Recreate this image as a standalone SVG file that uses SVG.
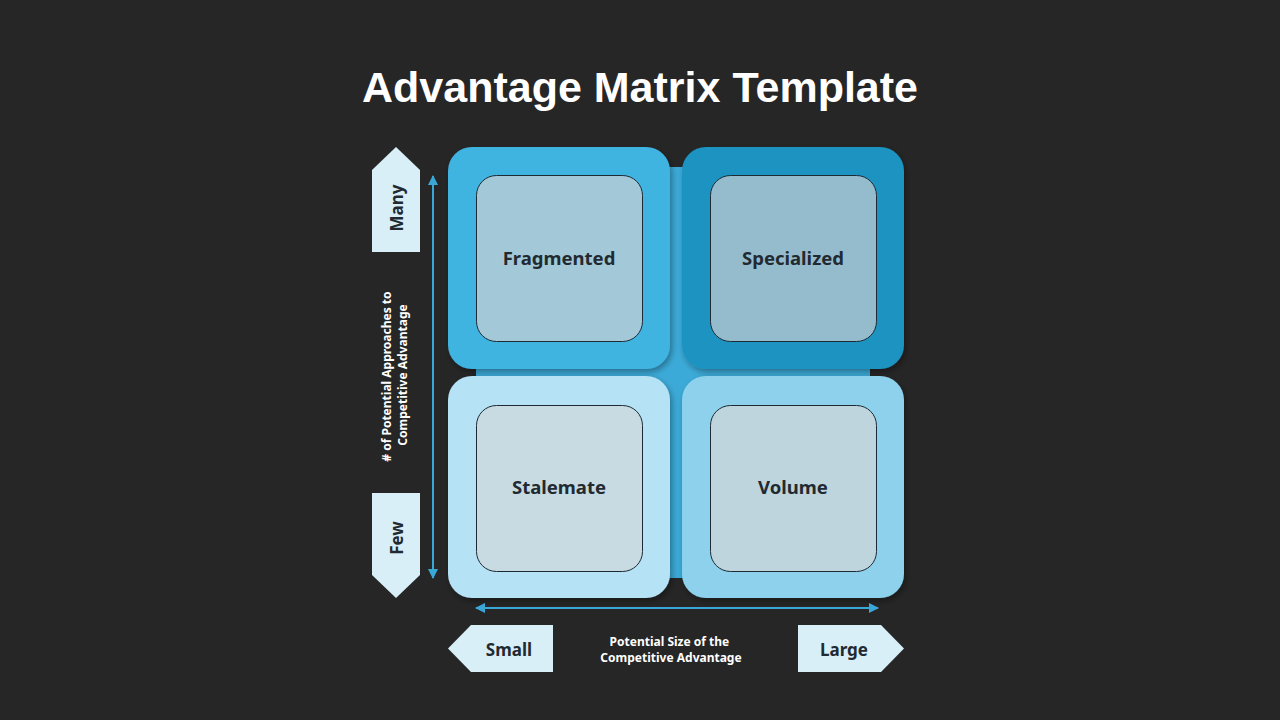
<svg xmlns="http://www.w3.org/2000/svg" width="1280" height="720" viewBox="0 0 1280 720">
  <defs>
    <style>
      .title { font-family: "Liberation Sans", Arial, sans-serif; font-weight: bold; font-size: 42px; fill: #ffffff; }
      .qlabel { font-family: "Noto Sans", "Open Sans", sans-serif; font-weight: bold; font-size: 18.5px; fill: #222a31; }
      .tag { fill: #d8eff8; }
      .taglabel { font-family: "Noto Sans", "Open Sans", sans-serif; font-weight: bold; font-size: 17px; fill: #222a31; }
      .axis { font-family: "Noto Sans", "Open Sans", sans-serif; font-weight: bold; font-size: 12px; fill: #ffffff; }
      .inner { stroke: #1d2a33; stroke-width: 1; }
      .arrow { stroke: #3aa8d6; stroke-width: 2; fill: none; }
    </style>
    <marker id="ah" viewBox="0 0 10 10" refX="9" refY="5" markerWidth="5" markerHeight="5" orient="auto-start-reverse" markerUnits="strokeWidth">
      <path d="M0,0 L10,5 L0,10 z" fill="#3aa8d6"/>
    </marker>
    <filter id="sh" x="-10%" y="-10%" width="125%" height="125%">
      <feDropShadow dx="2" dy="3" stdDeviation="3" flood-color="#000000" flood-opacity="0.35"/>
    </filter>
  </defs>
  <rect width="1280" height="720" fill="#262626"/>
  <text class="title" x="640" y="102" text-anchor="middle" textLength="556" lengthAdjust="spacingAndGlyphs">Advantage Matrix Template</text>

  <rect id="matrix-bg" x="476" y="167" width="394" height="411" fill="#3caad8"/>

  <g id="fragmented">
    <rect x="448" y="147" width="222" height="222" rx="24" fill="#41b4e1" filter="url(#sh)"/>
    <rect class="inner" x="476.5" y="175.5" width="166" height="166" rx="20" fill="#a3c9d8"/>
    <text class="qlabel" x="559" y="265" text-anchor="middle">Fragmented</text>
  </g>
  <g id="specialized">
    <rect x="682" y="147" width="222" height="222" rx="24" fill="#1f93c0" filter="url(#sh)"/>
    <rect class="inner" x="710.5" y="175.5" width="166" height="166" rx="20" fill="#95bccc"/>
    <text class="qlabel" x="793" y="265" text-anchor="middle">Specialized</text>
  </g>
  <g id="stalemate">
    <rect x="448" y="376" width="222" height="222" rx="24" fill="#b6e2f5" filter="url(#sh)"/>
    <rect class="inner" x="476.5" y="405.5" width="166" height="166" rx="20" fill="#c8dae2"/>
    <text class="qlabel" x="559" y="494" text-anchor="middle">Stalemate</text>
  </g>
  <g id="volume">
    <rect x="682" y="376" width="222" height="222" rx="24" fill="#8dd1ec" filter="url(#sh)"/>
    <rect class="inner" x="710.5" y="405.5" width="166" height="166" rx="20" fill="#bed5de"/>
    <text class="qlabel" x="793" y="494" text-anchor="middle">Volume</text>
  </g>

  <g id="connectors">
    <line class="arrow" x1="433" y1="176" x2="433" y2="578" marker-start="url(#ah)" marker-end="url(#ah)"/>
    <line class="arrow" x1="476" y1="608" x2="878" y2="608" marker-start="url(#ah)" marker-end="url(#ah)"/>
  </g>

  <g id="many">
    <polygon class="tag" points="396,147 420,170 420,252 372,252 372,170"/>
    <text class="taglabel" transform="translate(403,208) rotate(-90)" text-anchor="middle">Many</text>
  </g>
  <g id="few">
    <polygon class="tag" points="372,493 420,493 420,575 396,598 372,575"/>
    <text class="taglabel" transform="translate(403,538) rotate(-90)" text-anchor="middle">Few</text>
  </g>
  <g id="y-axis-label">
    <text class="axis" transform="translate(391,375) rotate(-90)" text-anchor="middle">
      <tspan x="0" y="0"># of Potential Approaches to</tspan>
      <tspan x="0" y="16">Competitive Advantage</tspan>
    </text>
  </g>
  <g id="small">
    <polygon class="tag" points="448,648.5 471,625 553,625 553,672 471,672"/>
    <text class="taglabel" x="509" y="656" text-anchor="middle">Small</text>
  </g>
  <g id="large">
    <polygon class="tag" points="798,625 881,625 904,648.5 881,672 798,672"/>
    <text class="taglabel" x="844" y="656" text-anchor="middle">Large</text>
  </g>
  <g id="x-axis-label">
    <text class="axis" text-anchor="middle">
      <tspan x="671" y="646">Potential Size of the</tspan>
      <tspan x="671" y="662">Competitive Advantage</tspan>
    </text>
  </g>
</svg>
